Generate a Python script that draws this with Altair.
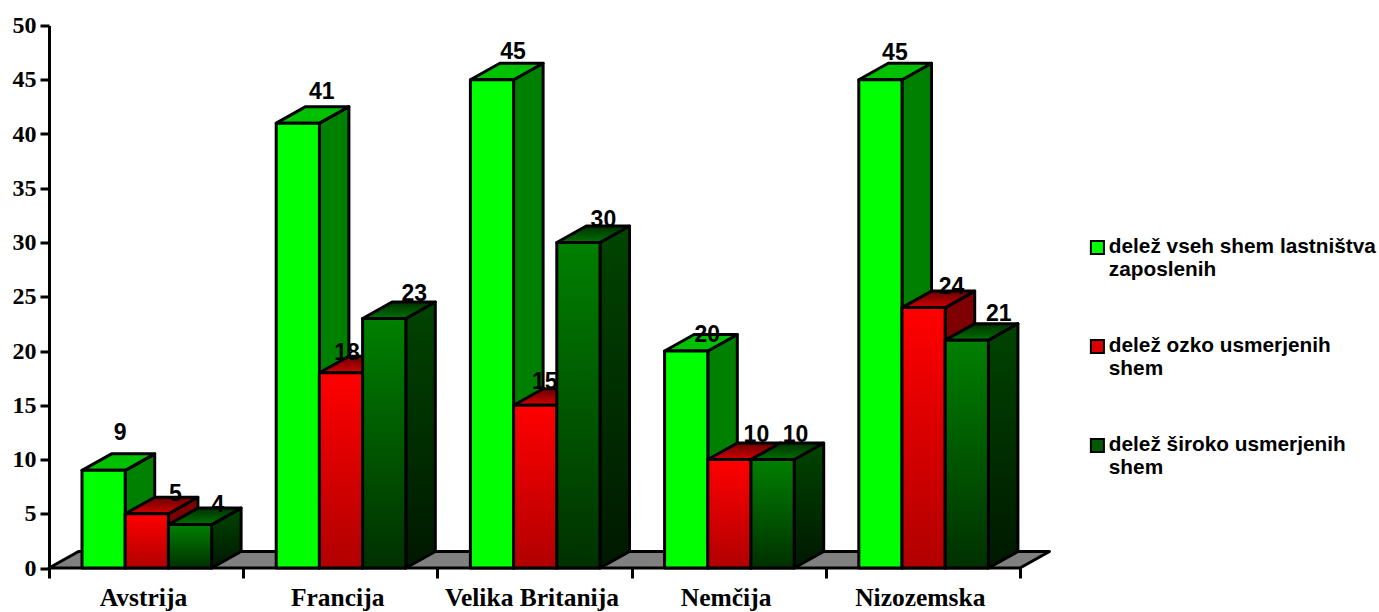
import altair as alt
import pandas as pd

categories = ["Avstrija", "Francija", "Velika Britanija", "Nemčija", "Nizozemska"]
vse_sheme = [9, 41, 45, 20, 45]
ozke_sheme = [5, 18, 15, 10, 24]
siroke_sheme = [4, 23, 30, 10, 21]
series_names = [
    "delež vseh shem lastništva|zaposlenih",
    "delež ozko usmerjenih|shem",
    "delež široko usmerjenih|shem",
]
# Hand placement of the value labels, in pixels from the centre of the bar's front top edge.
label_dx = [[16.5, 24, 21, 21, 14.5], [28.5, 6, 9.5, 27, 28], [28, 30, 25, 23, 32]]
label_dy = [[37, 31, 28, 16, 27], [20, 20, 23, 24.5, 20.6], [20, 24.5, 22.5, 24.5, 26]]

PLOT_W, PLOT_H = 1001, 542.5
CAT_PX = 194.2
X_MAX = PLOT_W / CAT_PX
Y_MAX = 50
PX_Y = Y_MAX / PLOT_H
BAR_W = 43.2 / CAT_PX
BAR_START = 33 / CAT_PX
DEPTH_X = 29.5 / CAT_PX
DEPTH_Y = 16.5 * PX_Y

x_scale = alt.Scale(domain=[0, X_MAX], nice=False, zero=False)
y_scale = alt.Scale(domain=[0, Y_MAX], nice=False)


def vgrad(top, bottom):
    return alt.Gradient(
        gradient="linear",
        x1=0, x2=0, y1=0, y2=1,
        stops=[alt.GradientStop(offset=0, color=top), alt.GradientStop(offset=1, color=bottom)],
    )


styles = [
    dict(front=vgrad("#00ff00", "#00ff00"), side=vgrad("#008000", "#008000"), top=vgrad("#00c000", "#00c000")),
    dict(front=vgrad("#ff0000", "#b00000"), side=vgrad("#800000", "#700000"), top=vgrad("#6a0000", "#d00000")),
    dict(front=vgrad("#008000", "#003000"), side=vgrad("#004400", "#001800"), top=vgrad("#003000", "#007000")),
]
edge = dict(stroke="black", strokeWidth=3, strokeJoin="round")

all_values = [vse_sheme, ozke_sheme, siroke_sheme]
layers = []

# Grey floor under the bars
floor = pd.DataFrame({
    "x": [0, DEPTH_X, 5, 5 + DEPTH_X],
    "top": [0, DEPTH_Y, DEPTH_Y, DEPTH_Y],
    "bottom": [0, 0, 0, DEPTH_Y],
})
layers.append(
    alt.Chart(floor).mark_area(color="#808080", **edge).encode(
        x=alt.X(
            "x:Q", scale=x_scale, title=None,
            axis=alt.Axis(
                values=[0, 1, 2, 3, 4, 5], domain=False, grid=False, tickSize=10, tickWidth=3,
                tickColor="black", labelOffset=94, labelPadding=7, labelFont="Liberation Serif",
                labelFontWeight="bold", labelFontSize=25.5, labelColor="black", labelOverlap=False,
                labelBound=False, labelFlush=False,
                labelExpr="[" + ",".join(repr(c) for c in categories) + ",''][datum.value]",
            ),
        ),
        y=alt.Y(
            "top:Q", scale=y_scale, stack=None, title=None,
            axis=alt.Axis(
                values=list(range(0, 55, 5)), grid=False, domainWidth=3, domainColor="black",
                tickSize=9, tickWidth=3, tickColor="black", labelPadding=4,
                labelFont="Liberation Serif", labelFontWeight="bold", labelFontSize=24,
                labelColor="black",
            ),
        ),
        y2="bottom:Q",
    )
)

# Each series is painted side, top, then front so later bars cover the earlier ones
for s, values in enumerate(all_values):
    fronts, sides, tops = [], [], []
    for c, v in enumerate(values):
        left = c + BAR_START + s * BAR_W
        right = left + BAR_W
        fronts.append({"x": left, "x2": right, "y": v, "y2": 0})
        sides += [
            {"bar": c, "x": right, "top": v, "bottom": 0},
            {"bar": c, "x": right + DEPTH_X, "top": v + DEPTH_Y, "bottom": DEPTH_Y},
        ]
        tops += [
            {"bar": c, "x": left, "top": v, "bottom": v},
            {"bar": c, "x": left + DEPTH_X, "top": v + DEPTH_Y, "bottom": v},
            {"bar": c, "x": right, "top": v + DEPTH_Y, "bottom": v},
            {"bar": c, "x": right + DEPTH_X, "top": v + DEPTH_Y, "bottom": v + DEPTH_Y},
        ]
    for rows, key in ((sides, "side"), (tops, "top")):
        layers.append(
            alt.Chart(pd.DataFrame(rows)).mark_area(color=styles[s][key], **edge).encode(
                x=alt.X("x:Q", scale=x_scale),
                y=alt.Y("top:Q", scale=y_scale, stack=None),
                y2="bottom:Q",
                detail="bar:N",
            )
        )
    layers.append(
        alt.Chart(pd.DataFrame(fronts)).mark_bar(color=styles[s]["front"], **edge).encode(
            x=alt.X("x:Q", scale=x_scale),
            x2="x2:Q",
            y=alt.Y("y:Q", scale=y_scale, stack=None),
            y2="y2:Q",
        )
    )

# Value labels sit above everything else
label_rows = []
for s, values in enumerate(all_values):
    for c, v in enumerate(values):
        centre = c + BAR_START + (s + 0.5) * BAR_W
        label_rows.append({
            "x": centre + label_dx[s][c] / CAT_PX,
            "y": v + label_dy[s][c] * PX_Y,
            "value": v,
        })
layers.append(
    alt.Chart(pd.DataFrame(label_rows)).mark_text(
        font="Liberation Sans", fontWeight="bold", fontSize=23, color="black", baseline="middle",
    ).encode(
        x=alt.X("x:Q", scale=x_scale),
        y=alt.Y("y:Q", scale=y_scale),
        text="value:Q",
    )
)

# Zero-size squares carry the colour scale so the legend is generated from the series
legend_df = pd.DataFrame({"series": series_names, "x": [0, 0, 0], "y": [0, 0, 0]})
layers.append(
    alt.Chart(legend_df).mark_square(size=0).encode(
        x=alt.X("x:Q", scale=x_scale),
        y=alt.Y("y:Q", scale=y_scale),
        color=alt.Color(
            "series:N",
            scale=alt.Scale(domain=series_names, range=["#00ff00", "#d80000", "#005800"]),
            legend=alt.Legend(
                title=None, orient="none", legendX=1038, legendY=211.5, symbolType="square",
                symbolSize=170, symbolStrokeColor="black", symbolStrokeWidth=2, symbolOpacity=1,
                labelFont="Liberation Sans", labelFontWeight="bold", labelFontSize=20.8,
                labelColor="black", labelLimit=400, labelOffset=1, labelBaseline="middle",
                labelExpr="split(datum.label, '|')", rowPadding=55,
            ),
        ),
    )
)

chart = (
    alt.layer(*layers)
    .properties(
        width=PLOT_W,
        height=PLOT_H,
        background="white",
        padding={"left": 49, "top": 25.5, "right": 329, "bottom": 44},
        autosize=alt.AutoSizeParams(type="none"),
    )
    .configure_view(strokeWidth=0, stroke=None)
)

chart.save("out.html", embed_options={"renderer": "svg", "actions": False})
